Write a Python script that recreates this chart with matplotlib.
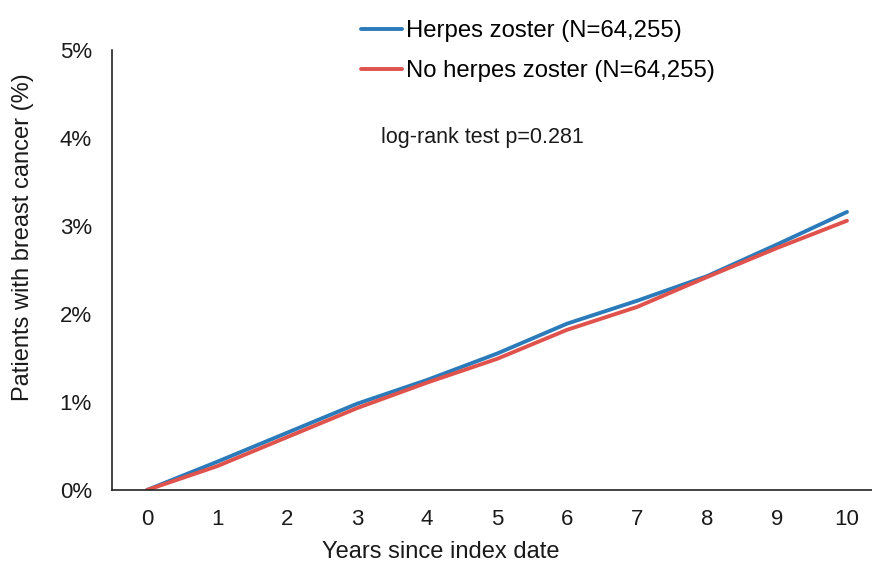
import numpy as np
import matplotlib
matplotlib.use('Agg')
import matplotlib.pyplot as plt
from matplotlib.ticker import FuncFormatter

plt.rcParams['font.family'] = ['Liberation Sans', 'DejaVu Sans']

# data (cumulative incidence, %)
years = [0, 1, 2, 3, 4, 5, 6, 7, 8, 9, 10]
hz = [0.0, 0.32, 0.65, 0.98, 1.25, 1.55, 1.89, 2.15, 2.43, 2.79, 3.16]
no_hz = [0.0, 0.27, 0.60, 0.93, 1.22, 1.49, 1.82, 2.08, 2.42, 2.75, 3.06]
labels = ['Herpes zoster (N=64,255)', 'No herpes zoster (N=64,255)']
blue = '#2b7bbb'
red = '#e0534d'
txt = '#1a1a1a'

fig = plt.figure(figsize=(8.72, 5.63), dpi=100)
ax = fig.add_axes([112/872, 1 - 490/563, (882-112)/872, 440/563])

ax.plot(years, hz, color=blue, lw=2.8, label=labels[0], solid_capstyle='round')
ax.plot(years, no_hz, color=red, lw=2.8, label=labels[1], solid_capstyle='round')

ax.set_xlim(-0.5, 10.5)
ax.set_ylim(0, 5)
ax.set_xticks(years)
ax.set_yticks([0, 1, 2, 3, 4, 5])
ax.yaxis.set_major_formatter(FuncFormatter(lambda v, p: f'{v:.0f}%'))
ax.tick_params(length=0, labelsize=16, colors=txt)
ax.tick_params(axis='x', pad=14)
ax.tick_params(axis='y', pad=14.5)

for s in ['top', 'right']:
    ax.spines[s].set_visible(False)
for s in ['left', 'bottom']:
    ax.spines[s].set_linewidth(1.2)
    ax.spines[s].set_color('#222222')

fig.text(441/872, 1 - 552/563, 'Years since index date', ha='center', va='center',
         fontsize=17, color=txt)
fig.text(23/872, 1 - 237/563, 'Patients with breast cancer (%)', ha='center', va='center',
         rotation=90, fontsize=17, color=txt)
fig.text(381/872, 1 - 138/563, 'log-rank test p=0.281', ha='left', va='center',
         fontsize=15.5, color=txt)

ax.legend(loc='upper left', bbox_to_anchor=(361/872, 1 - 20/563),
          bbox_transform=fig.transFigure, frameon=False, fontsize=17.2,
          handlelength=1.7, handletextpad=0.17, labelspacing=0.75,
          borderaxespad=0, borderpad=0)

fig.savefig('out.png', dpi=100)
